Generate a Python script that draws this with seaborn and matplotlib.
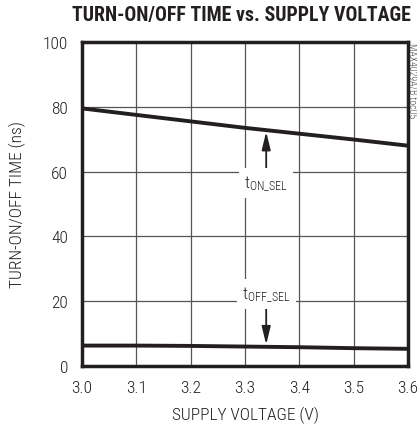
import matplotlib
matplotlib.use("Agg")
import matplotlib.pyplot as plt
import seaborn as sns
import pandas as pd

# ---- data ----
voltage = [3.0, 3.1, 3.2, 3.3, 3.4, 3.5, 3.6]
t_on = [79.5, 77.5, 75.5, 73.5, 71.7, 69.9, 68.0]
t_off = [6.3, 6.3, 6.2, 6.0, 5.8, 5.5, 5.3]
x_ticks = [3.0, 3.1, 3.2, 3.3, 3.4, 3.5, 3.6]
y_ticks = [0, 20, 40, 60, 80, 100]
title = "TURN-ON/OFF TIME vs. SUPPLY VOLTAGE"
xlabel = "SUPPLY VOLTAGE (V)"
ylabel = "TURN-ON/OFF TIME (ns)"

sns.set_theme(style="white")
plt.rcParams['font.family'] = ['Roboto Condensed', 'DejaVu Sans']
plt.rcParams['font.weight'] = 'light'
plt.rcParams['axes.labelweight'] = 'light'
plt.rcParams['mathtext.fontset'] = 'custom'
plt.rcParams['mathtext.rm'] = 'Roboto Condensed:light'
plt.rcParams['mathtext.it'] = 'Roboto Condensed:light'

TXT = "#231f20"

df = pd.DataFrame({"V": voltage * 2,
                   "t": t_on + t_off,
                   "s": ["on"] * len(voltage) + ["off"] * len(voltage)})

fig = plt.figure(figsize=(4.17, 4.31), dpi=100)
ax = fig.add_axes([82 / 417, 1 - 367 / 431, (408 - 82) / 417, (367 - 43) / 431])

ax.set_xlim(3.0, 3.6)
ax.set_ylim(0, 100)
ax.set_xticks(x_ticks)
ax.set_yticks(y_ticks)
ax.set_xticklabels([f"{v:.1f}" for v in x_ticks])
ax.set_yticklabels([str(v) for v in y_ticks])
ax.grid(True, color="#555555", linewidth=0.9)
ax.set_axisbelow(True)

sns.lineplot(data=df, x="V", y="t", units="s", estimator=None, color=TXT,
             linewidth=2.8, ax=ax, zorder=5)

for sp in ax.spines.values():
    sp.set_color(TXT)
    sp.set_linewidth(2.5)
    sp.set_zorder(10)

ax.tick_params(axis="x", length=0, labelsize=12.5, colors=TXT, pad=10)
ax.tick_params(axis="y", length=0, labelsize=12.5, colors=TXT, pad=10)
ax.set_xlabel(xlabel, fontsize=12.5, color=TXT, labelpad=8, fontweight="light")
ax.set_ylabel(ylabel, fontsize=12.5, color=TXT, labelpad=12, fontweight="light")

# annotations
bbox = dict(boxstyle="square,pad=0.3", fc="white", ec="none")
ax.annotate("", xy=(3.339, 72.3), xytext=(3.339, 61.0),
            arrowprops=dict(arrowstyle="-|>,head_width=0.22,head_length=0.9",
                            color=TXT, lw=1.3, shrinkA=0, shrinkB=0), zorder=6)
ax.text(3.339, 56.5, r"t$_{\mathregular{ON\_SEL}}$", ha="center", va="center",
        fontsize=12.5, color=TXT, bbox=bbox, zorder=6)
ax.annotate("", xy=(3.339, 6.6), xytext=(3.339, 17.6),
            arrowprops=dict(arrowstyle="-|>,head_width=0.22,head_length=0.9",
                            color=TXT, lw=1.3, shrinkA=0, shrinkB=0), zorder=6)
ax.text(3.339, 22.2, r"t$_{\mathregular{OFF\_SEL}}$", ha="center", va="center",
        fontsize=12.5, color=TXT, bbox=bbox, zorder=6)

fig.text(72 / 417, 1 - 15 / 431, title, ha="left", va="center", fontsize=14.3,
         fontweight="bold", color=TXT)
fig.text(412.5 / 417, 1 - 81 / 431, "MAX4029A/B toc05", rotation=-90, ha="center",
         va="center", fontsize=7, color="#444444")

fig.savefig("out.png", dpi=100)
